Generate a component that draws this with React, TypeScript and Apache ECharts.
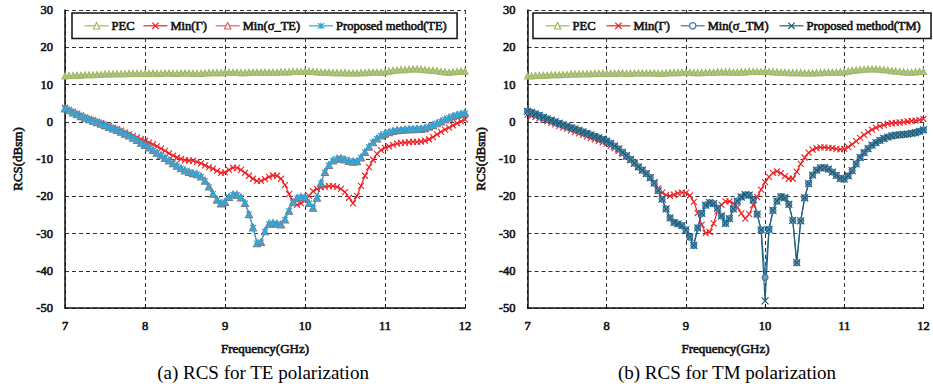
import React, { useEffect, useRef } from "react";
import * as echarts from "echarts";

// Frequency sampling (GHz): 7.00 .. 12.00, step 0.05
const F_START = 7;
const F_STEP = 0.05;
const N_POINTS = 101;
const FREQ: number[] = Array.from({ length: N_POINTS }, (_, i) => +(F_START + i * F_STEP).toFixed(2));

const X_TICKS = [7, 8, 9, 10, 11, 12];
const Y_TICKS = [-50, -40, -30, -20, -10, 0, 10, 20, 30];

// ---- (a) TE polarization ----
const TE_PEC = [
  12.3, 12.4, 12.4, 12.5, 12.5, 12.6, 12.6, 12.6, 12.7, 12.7,
  12.8, 12.8, 12.8, 12.9, 12.9, 12.9, 13.0, 13.0, 13.0, 13.0,
  13.0, 13.0, 13.1, 13.0, 13.0, 13.1, 13.1, 13.0, 13.0, 13.1,
  13.1, 13.1, 13.0, 13.0, 13.0, 13.1, 13.2, 13.2, 13.2, 13.2,
  13.3, 13.3, 13.3, 13.3, 13.2, 13.2, 13.3, 13.3, 13.3, 13.3,
  13.3, 13.3, 13.3, 13.3, 13.4, 13.4, 13.4, 13.5, 13.5, 13.5,
  13.6, 13.6, 13.5, 13.4, 13.3, 13.3, 13.3, 13.2, 13.2, 13.2,
  13.2, 13.1, 13.1, 13.1, 13.2, 13.2, 13.3, 13.3, 13.3, 13.3,
  13.4, 13.6, 13.8, 13.9, 14.0, 14.0, 14.1, 14.2, 14.2, 14.1,
  14.0, 13.9, 13.8, 13.7, 13.5, 13.4, 13.3, 13.4, 13.5, 13.6,
  13.6,
];
const TE_GAMMA = [
  3.8, 3.2, 2.7, 2.2, 1.7, 1.2, 0.8, 0.4, 0.0, -0.4,
  -0.8, -1.2, -1.6, -2.0, -2.4, -2.9, -3.3, -3.8, -4.2, -4.7,
  -5.1, -5.6, -6.1, -6.6, -7.2, -7.8, -8.5, -9.1, -9.6, -10.0,
  -10.3, -10.4, -10.5, -10.8, -11.2, -11.7, -12.2, -12.6, -13.2, -13.7,
  -13.6, -12.9, -12.3, -12.4, -12.9, -13.7, -14.5, -15.3, -15.9, -15.9,
  -15.4, -14.8, -14.4, -14.5, -15.3, -17.0, -19.4, -21.3, -22.3, -21.9,
  -21.1, -19.9, -18.6, -18.0, -17.6, -17.4, -17.3, -17.3, -17.5, -18.0,
  -18.9, -20.4, -21.9, -19.9, -17.2, -14.5, -12.2, -10.2, -8.6, -7.6,
  -7.0, -6.6, -6.2, -5.9, -5.7, -5.6, -5.5, -5.4, -5.4, -5.3,
  -5.1, -4.7, -4.1, -3.4, -2.7, -2.1, -1.6, -1.0, -0.4, 0.1,
  0.6,
];
const TE_SIGMA = [
  3.6, 3.1, 2.5, 2.0, 1.5, 1.1, 0.7, 0.3, -0.1, -0.5,
  -0.9, -1.4, -1.8, -2.2, -2.7, -3.2, -3.7, -4.3, -4.9, -5.6,
  -6.2, -6.9, -7.6, -8.3, -9.0, -9.7, -10.4, -11.1, -11.8, -12.5,
  -13.1, -13.5, -13.8, -14.1, -14.7, -15.8, -17.4, -19.3, -20.9, -21.9,
  -21.5, -20.2, -19.5, -19.6, -20.3, -21.8, -24.8, -28.4, -32.6, -32.3,
  -29.4, -27.4, -27.2, -27.4, -27.6, -26.2, -23.9, -21.6, -20.5, -20.2,
  -20.3, -21.8, -23.1, -20.4, -16.4, -13.5, -11.6, -10.4, -9.9, -9.8,
  -10.1, -10.5, -10.7, -10.6, -9.6, -8.1, -6.7, -5.5, -4.5, -3.7,
  -3.2, -2.8, -2.5, -2.3, -2.2, -2.1, -2.0, -2.0, -1.9, -1.9,
  -1.7, -1.3, -0.9, -0.4, 0.1, 0.6, 1.1, 1.5, 1.8, 2.1,
  2.4,
];
const TE_PROPOSED = [
  3.6, 3.1, 2.5, 2.0, 1.5, 1.1, 0.7, 0.3, -0.1, -0.5,
  -0.9, -1.4, -1.8, -2.2, -2.7, -3.2, -3.7, -4.3, -4.9, -5.6,
  -6.2, -6.9, -7.6, -8.3, -9.0, -9.7, -10.4, -11.1, -11.8, -12.5,
  -13.1, -13.5, -13.8, -14.1, -14.7, -15.8, -17.4, -19.3, -20.9, -21.9,
  -21.5, -20.2, -19.5, -19.6, -20.3, -21.8, -24.8, -28.4, -32.6, -32.3,
  -29.4, -27.4, -27.2, -27.4, -27.6, -26.2, -23.9, -21.6, -20.5, -20.2,
  -20.3, -21.8, -23.1, -20.4, -16.4, -13.5, -11.6, -10.4, -9.9, -9.8,
  -10.1, -10.5, -10.7, -10.6, -9.6, -8.1, -6.7, -5.5, -4.5, -3.7,
  -3.2, -2.8, -2.5, -2.3, -2.2, -2.1, -2.0, -2.0, -1.9, -1.9,
  -1.7, -1.3, -0.9, -0.4, 0.1, 0.6, 1.1, 1.5, 1.8, 2.1,
  2.4,
];

// ---- (b) TM polarization ----
const TM_PEC = [
  12.3, 12.3, 12.4, 12.4, 12.5, 12.5, 12.6, 12.6, 12.6, 12.7,
  12.7, 12.8, 12.8, 12.8, 12.9, 12.9, 12.9, 13.0, 13.0, 13.0,
  13.0, 13.0, 13.0, 13.1, 13.1, 13.0, 13.0, 13.1, 13.1, 13.1,
  13.1, 13.1, 13.1, 13.0, 13.0, 13.1, 13.2, 13.2, 13.2, 13.3,
  13.3, 13.3, 13.2, 13.2, 13.2, 13.3, 13.3, 13.3, 13.4, 13.4,
  13.4, 13.4, 13.3, 13.3, 13.4, 13.4, 13.5, 13.5, 13.5, 13.5,
  13.6, 13.5, 13.4, 13.4, 13.3, 13.3, 13.2, 13.2, 13.2, 13.2,
  13.1, 13.1, 13.1, 13.2, 13.2, 13.3, 13.3, 13.3, 13.3, 13.4,
  13.4, 13.6, 13.8, 13.9, 14.0, 14.1, 14.2, 14.2, 14.2, 14.1,
  14.0, 13.9, 13.7, 13.6, 13.5, 13.4, 13.3, 13.3, 13.4, 13.5,
  13.5,
];
const TM_GAMMA = [
  1.9, 1.6, 1.3, 0.9, 0.5, 0.1, -0.3, -0.7, -1.1, -1.5,
  -1.9, -2.3, -2.7, -3.1, -3.5, -3.9, -4.3, -4.7, -5.1, -5.5,
  -5.9, -6.5, -7.1, -7.8, -8.6, -9.4, -10.3, -11.2, -12.1, -13.0,
  -13.9, -15.0, -16.3, -17.8, -19.0, -19.7, -19.9, -19.6, -19.2, -19.0,
  -19.1, -19.8, -21.5, -24.5, -27.6, -29.9, -29.6, -27.3, -24.0, -22.3,
  -21.4, -21.4, -21.9, -23.0, -24.6, -26.0, -24.8, -22.4, -20.2, -18.2,
  -16.2, -14.8, -13.7, -13.3, -13.8, -14.6, -15.3, -15.3, -13.4, -11.3,
  -9.6, -8.3, -7.5, -7.1, -6.9, -6.9, -7.0, -7.1, -7.3, -7.4,
  -7.3, -6.8, -6.1, -5.2, -4.3, -3.5, -2.8, -2.1, -1.6, -1.2,
  -0.9, -0.6, -0.4, -0.3, -0.2, -0.1, 0.1, 0.2, 0.3, 0.5,
  0.8,
];
const TM_SIGMA = [
  2.8, 2.5, 2.1, 1.7, 1.2, 0.8, 0.4, 0.0, -0.4, -0.8,
  -1.2, -1.6, -1.9, -2.3, -2.7, -3.1, -3.5, -3.9, -4.3, -4.7,
  -5.2, -5.8, -6.5, -7.3, -8.2, -9.1, -10.1, -11.1, -12.1, -13.0,
  -13.9, -15.0, -16.5, -18.5, -20.8, -23.4, -25.8, -27.0, -27.4, -27.9,
  -29.0, -31.0, -33.2, -28.5, -24.6, -22.4, -21.7, -22.0, -23.2, -25.3,
  -27.3, -26.0, -23.4, -21.3, -20.2, -19.6, -19.7, -21.0, -24.8, -29.0,
  -41.8, -28.9, -23.8, -21.3, -20.1, -20.4, -22.2, -26.5, -37.8, -26.6,
  -20.4, -16.6, -14.3, -13.0, -12.4, -12.3, -12.7, -13.5, -14.4, -15.2,
  -15.4, -14.5, -13.1, -11.3, -9.6, -8.3, -7.2, -6.3, -5.6, -5.0,
  -4.5, -4.1, -3.8, -3.6, -3.5, -3.4, -3.3, -3.1, -2.9, -2.6,
  -2.2,
];
const TM_PROPOSED = [
  2.8, 2.5, 2.1, 1.7, 1.2, 0.8, 0.4, 0.0, -0.4, -0.8,
  -1.2, -1.6, -1.9, -2.3, -2.7, -3.1, -3.5, -3.9, -4.3, -4.7,
  -5.2, -5.8, -6.5, -7.3, -8.2, -9.1, -10.1, -11.1, -12.1, -13.0,
  -13.9, -15.0, -16.5, -18.5, -20.8, -23.4, -25.8, -27.0, -27.4, -27.9,
  -29.0, -31.0, -33.2, -28.5, -24.6, -22.4, -21.7, -22.0, -23.2, -25.3,
  -27.3, -26.0, -23.4, -21.3, -20.2, -19.6, -19.7, -21.0, -24.8, -29.0,
  -48.1, -28.9, -23.8, -21.3, -20.1, -20.4, -22.2, -26.5, -37.8, -26.6,
  -20.4, -16.6, -14.3, -13.0, -12.4, -12.3, -12.7, -13.5, -14.4, -15.2,
  -15.4, -14.5, -13.1, -11.3, -9.6, -8.3, -7.2, -6.3, -5.6, -5.0,
  -4.5, -4.1, -3.8, -3.6, -3.5, -3.4, -3.3, -3.1, -2.9, -2.6,
  -2.2,
];

const LEGEND_A = ["PEC", "Min(Γ)", "Min(σ_TE)", "Proposed method(TE)"];
const LEGEND_B = ["PEC", "Min(Γ)", "Min(σ_TM)", "Proposed method(TM)"];
const CAPTIONS = ["(a) RCS for TE polarization", "(b) RCS for TM polarization"];
const X_NAME = "Frequency(GHz)";
const Y_NAME = "RCS(dBsm)";

const SERIF = "Liberation Serif";
const X_PATH = "path://M0,0L10,10M10,0L0,10";
const STAR_PATH = "path://M0,0L10,10M10,0L0,10M5,-1L5,11";

const GREEN = "#9bbb59";
const RED = "#ec2226";
const PINK = "#e06060";
const CYAN = "#2aa8dc";
const BLUE = "#2e75b6";
const TEAL = "#1d5e6e";

function pts(vals: number[]) {
  return FREQ.map((f, i) => [f, vals[i]]);
}

function lineSeries(
  name: string,
  vals: number[],
  idx: number,
  color: string,
  symbol: string,
  fill: string,
  border: string,
  size: number
) {
  return {
    type: "line",
    name,
    xAxisIndex: idx,
    yAxisIndex: idx,
    data: pts(vals),
    symbol,
    symbolSize: size,
    showSymbol: true,
    lineStyle: { color, width: 1.2 },
    itemStyle: { color: fill, borderColor: border, borderWidth: 1.1 },
    emphasis: { disabled: true },
  };
}

function legendItems(names: string[], colors: string[]) {
  return names.map((n, i) => ({
    name: n,
    itemStyle: { color: "#ffffff", borderColor: colors[i], borderWidth: 1.2 },
    lineStyle: { color: colors[i], width: 1.2 },
  }));
}

// faux-bold serif (regular face + thin outline of the same colour)
const boldText = (size: number) => ({
  fontFamily: SERIF,
  fontWeight: "normal",
  fontSize: size,
  color: "#111",
  textBorderColor: "#111",
  textBorderWidth: 0.6,
});

export default function App() {
  const ref = useRef<HTMLDivElement>(null);

  useEffect(() => {
    if (!ref.current) return;
    const chart = echarts.init(ref.current, undefined, { renderer: "svg" });

    const grids = [
      { left: 65, top: 10, width: 400, height: 298 },
      { left: 527.5, top: 10, width: 400, height: 298 },
    ];

    const xAxes = [0, 1].map((i) => ({
      type: "value",
      gridIndex: i,
      min: X_TICKS[0],
      max: X_TICKS[X_TICKS.length - 1],
      interval: 1,
      name: X_NAME,
      nameLocation: "middle",
      nameGap: 34,
      nameTextStyle: boldText(13),
      axisLine: { show: true, onZero: false, lineStyle: { color: "#111", width: 1.5 } },
      axisTick: { show: true, inside: true, length: 4, lineStyle: { color: "#111" } },
      axisLabel: { ...boldText(12.5), margin: 11 },
      splitLine: { show: true, lineStyle: { color: "#333", type: [4, 3], width: 1 } },
    }));

    const yAxes = [0, 1].map((i) => ({
      type: "value",
      gridIndex: i,
      min: Y_TICKS[0],
      max: Y_TICKS[Y_TICKS.length - 1],
      interval: 10,
      name: Y_NAME,
      nameLocation: "middle",
      nameGap: 41,
      nameRotate: 90,
      nameTextStyle: boldText(13),
      axisLine: { show: true, onZero: false, lineStyle: { color: "#111", width: 1.5 } },
      axisTick: { show: false },
      axisLabel: { ...boldText(12.5), margin: 12 },
      splitLine: { show: true, lineStyle: { color: "#333", type: [4, 3], width: 1 } },
    }));

    const legendCommon = {
      orient: "horizontal",
      top: 13,
      itemWidth: 24,
      itemHeight: 8,
      padding: [6, 10, 6, 12],
      backgroundColor: "#fff",
      borderColor: "#111",
      borderWidth: 1.5,
      borderRadius: 0,
      selectedMode: false,
      textStyle: { ...boldText(12.5), padding: [0, 0, 0, -2] },
    };

    const series = [
      lineSeries("PEC", TE_PEC, 0, GREEN, "triangle", "#b3c09c", GREEN, 6),
      lineSeries("Min(Γ)", TE_GAMMA, 0, RED, X_PATH, "rgba(0,0,0,0)", RED, 6),
      lineSeries("Min(σ_TE)", TE_SIGMA, 0, PINK, "triangle", "#8e9aa8", "#6f7c8c", 7),
      lineSeries("Proposed method(TE)", TE_PROPOSED, 0, CYAN, STAR_PATH, "rgba(0,0,0,0)", CYAN, 6),
      lineSeries("PEC", TM_PEC, 1, GREEN, "triangle", "#b3c09c", GREEN, 6),
      lineSeries("Min(Γ)", TM_GAMMA, 1, RED, X_PATH, "rgba(0,0,0,0)", RED, 6),
      lineSeries("Min(σ_TM)", TM_SIGMA, 1, BLUE, "circle", "#7f98a8", BLUE, 6),
      lineSeries("Proposed method(TM)", TM_PROPOSED, 1, TEAL, X_PATH, "rgba(0,0,0,0)", TEAL, 7),
    ];

    chart.setOption({
      animation: false,
      backgroundColor: "#fff",
      grid: grids,
      xAxis: xAxes,
      yAxis: yAxes,
      legend: [
        { ...legendCommon, left: 72, itemGap: 8, data: legendItems(LEGEND_A, [GREEN, RED, PINK, CYAN]) },
        { ...legendCommon, left: 533, itemGap: 10, data: legendItems(LEGEND_B, [GREEN, RED, BLUE, TEAL]) },
      ],
      graphic: [
        {
          type: "text",
          x: 263,
          y: 372,
          style: { text: CAPTIONS[0], fontFamily: SERIF, fontSize: 19, fill: "#000", align: "center", verticalAlign: "middle" },
        },
        {
          type: "text",
          x: 727,
          y: 372,
          style: { text: CAPTIONS[1], fontFamily: SERIF, fontSize: 19, fill: "#000", align: "center", verticalAlign: "middle" },
        },
      ],
      series,
    });

    return () => chart.dispose();
  }, []);

  return (
    <div
      ref={ref}
      style={{ position: "absolute", left: 0, top: 0, width: 933, height: 387, background: "#fff" }}
    />
  );
}
